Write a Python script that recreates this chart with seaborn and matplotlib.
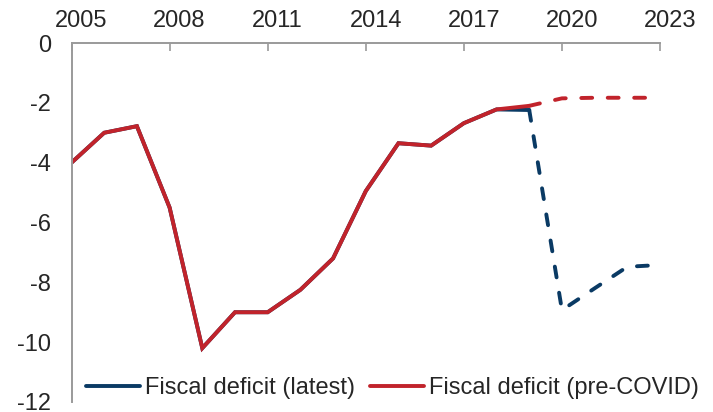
import matplotlib
matplotlib.use("Agg")
import matplotlib.pyplot as plt
import matplotlib.transforms as mtransforms
from matplotlib.lines import Line2D
import numpy as np
import pandas as pd
import seaborn as sns

years = list(range(2005, 2024))
latest = [-4.0, -3.0, -2.78, -5.5, -10.2, -9.0, -9.0, -8.25, -7.2, -4.95,
          -3.35, -3.43, -2.68, -2.22, -2.24, -8.93, -8.2, -7.48, -7.42]
pre_covid = [-4.0, -3.0, -2.78, -5.5, -10.2, -9.0, -9.0, -8.25, -7.2, -4.95,
             -3.35, -3.43, -2.68, -2.22, -2.1, -1.85, -1.83, -1.83, -1.83]
labels = ["Fiscal deficit (latest)", "Fiscal deficit (pre-COVID)"]
xticks = [2005, 2008, 2011, 2014, 2017, 2020, 2023]
yticks = [0, -2, -4, -6, -8, -10, -12]
split_year = 2019  # forecasts drawn dashed from here

navy = "#0A3A64"
red = "#C1232B"

sns.set_style("white")
plt.rcParams["font.family"] = ["Liberation Sans", "DejaVu Sans"]
plt.rcParams["axes.unicode_minus"] = False

df = pd.DataFrame({"year": years, "latest": latest, "pre": pre_covid})
hist = df[df.year <= split_year]
fcst = df[df.year >= split_year]

fig = plt.figure(figsize=(7.13, 4.12), dpi=100)
ax = fig.add_axes([0.1003, 0.0243, 0.8254, 0.8713])

lw = 2.8
dash = (0, (2.8, 4.0))
for col, c in [("latest", navy), ("pre", red)]:
    sns.lineplot(data=hist, x="year", y=col, color=c, lw=lw, ax=ax,
                 legend=False, solid_joinstyle="miter")
    sns.lineplot(data=fcst, x="year", y=col, color=c, lw=lw, ax=ax,
                 legend=False, linestyle=dash, dash_capstyle="round")

ax.set_xlim(2005, 2023)
ax.set_ylim(-12, 0)
ax.set_xticks(xticks)
ax.set_yticks(yticks)
ax.set_yticklabels([str(v) for v in yticks])
ax.set_xlabel("")
ax.set_ylabel("")

ax.xaxis.tick_top()
ax.tick_params(axis="x", direction="in", length=6, width=1.2, color="#9a9a9a",
               labelsize=17, pad=8)
ax.tick_params(axis="y", direction="out", length=3.6, width=1.2, color="#9a9a9a",
               labelsize=17, pad=11)
offset = mtransforms.ScaledTranslation(0.1, 0, fig.dpi_scale_trans)
for lab in ax.get_xticklabels():
    lab.set_transform(lab.get_transform() + offset)

for s in ["right", "bottom"]:
    ax.spines[s].set_visible(False)
for s in ["top", "left"]:
    ax.spines[s].set_color("#9a9a9a")
    ax.spines[s].set_linewidth(1.4)

handles = [Line2D([], [], color=navy, lw=lw), Line2D([], [], color=red, lw=lw)]
fig.legend(handles, labels, loc="center", bbox_to_anchor=(0.5505, 0.058),
           ncol=2, frameon=False, fontsize=17, handlelength=2.3,
           handletextpad=0.2, columnspacing=0.64)

fig.savefig("out.png", dpi=100)
